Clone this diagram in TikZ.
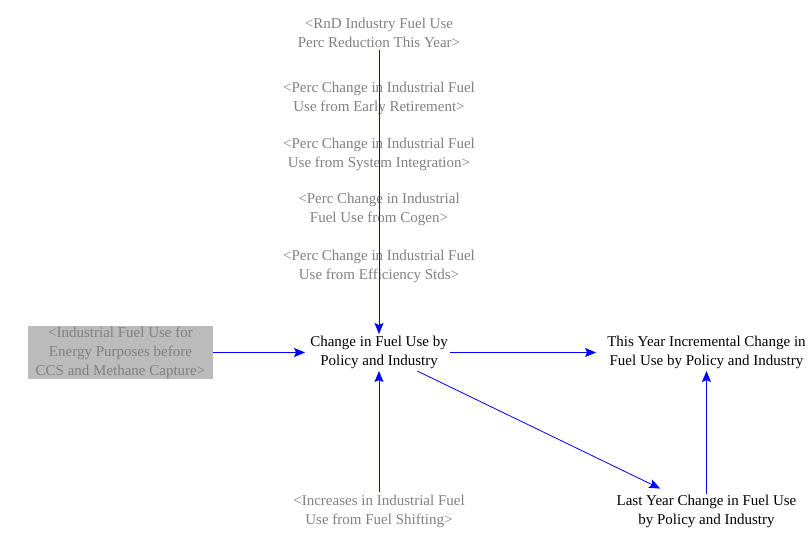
\documentclass[tikz,border=0pt]{standalone}
\usepackage{fontspec}
\setmainfont{Liberation Serif}
\usetikzlibrary{arrows.meta}
\definecolor{vblue}{RGB}{0,0,255}
\definecolor{ghost}{RGB}{128,128,128}
\definecolor{boxfill}{RGB}{187,187,187}
\tikzset{
  txt/.style={align=center, font=\fontsize{15}{19}\selectfont, inner sep=2pt},
  shadow/.style={txt, text=ghost},
  var/.style={txt, text=black},
  link/.style={draw=vblue, line width=0.8pt, -{Stealth[length=11pt,width=9pt,inset=2pt]}},
}
\begin{document}
\begin{tikzpicture}[x=1pt,y=-1pt]
\useasboundingbox (0,0) rectangle (812,535);
\node[shadow] (rnd) at (379,33) {<RnD Industry Fuel Use\\Perc Reduction This Year>};
\node[shadow] (early) at (379,98) {<Perc Change in Industrial Fuel\\Use from Early Retirement>};
\node[shadow] (sysint) at (379,154) {<Perc Change in Industrial Fuel\\Use from System Integration>};
\node[shadow] (cogen) at (379,209) {<Perc Change in Industrial\\Fuel Use from Cogen>};
\node[shadow] (eff) at (379,266) {<Perc Change in Industrial Fuel\\Use from Efficiency Stds>};
\node[shadow, fill=boxfill, minimum width=185, minimum height=53, inner sep=0pt] (ind) at (120.5,352.5) {<Industrial Fuel Use for\\Energy Purposes before\\CCS and Methane Capture>};
\node[var] (chg) at (379,352.5) {Change in Fuel Use by\\Policy and Industry};
\node[var] (this) at (706.5,352.5) {This Year Incremental Change in\\Fuel Use by Policy and Industry};
\node[var] (last) at (706.5,511) {Last Year Change in Fuel Use\\by Policy and Industry};
\node[shadow] (incr) at (379,511) {<Increases in Industrial Fuel\\Use from Fuel Shifting>};

\draw[link] (rnd.south) -- (chg.north);
\draw[link] (ind.east) -- ([xshift=-3pt]chg.west);
\draw[link] (chg.east) -- ([xshift=-9pt]this.west);
\draw[link, shorten >=9pt] (chg) -- (last);
\draw[link] ([yshift=-2pt]last.north) -- (this.south);
\draw[link] (incr.north) -- (chg.south);
\end{tikzpicture}
\end{document}
